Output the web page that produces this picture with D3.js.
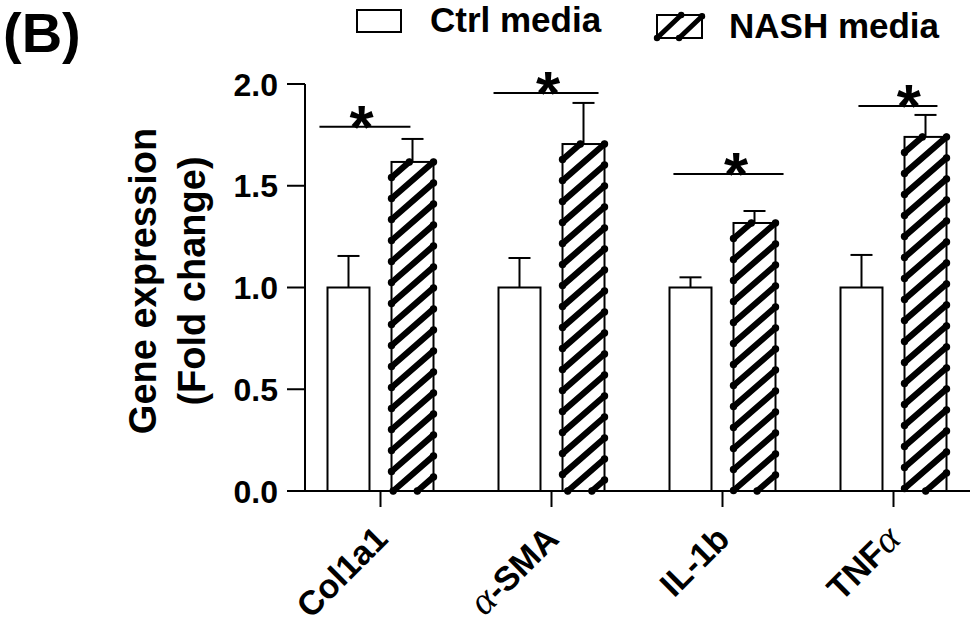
<!DOCTYPE html>
<html>
<head>
<meta charset="utf-8">
<script src="https://cdn.jsdelivr.net/npm/d3@7"></script>
<style>
  html, body { margin: 0; padding: 0; background: #fff; }
  svg { display: block; }
  text { font-family: "Liberation Sans", Arial, Helvetica, sans-serif; font-weight: bold; fill: #000; }
</style>
</head>
<body>
<svg id="chart" width="975" height="630"></svg>
<script>
// ---------- data ----------
const categories = ["Col1a1", "α-SMA", "IL-1b", "TNFα"];
const groups = ["Ctrl media", "NASH media"];
const ctrlMean = [1.0, 1.0, 1.0, 1.0];
const ctrlErr = [0.155, 0.145, 0.05, 0.16];
const nashMean = [1.617, 1.705, 1.317, 1.74];
const nashErr = [0.113, 0.202, 0.059, 0.108];
const sigLevel = [1.79, 1.956, 1.558, 1.892];
const sigLabel = ["*", "*", "*", "*"];
const yTicks = [0, 0.5, 1.0, 1.5, 2.0];
const yTickLabels = ["0.0", "0.5", "1.0", "1.5", "2.0"];

// annotation span of each significance line, in units of the category step
const sigSpan = [[-0.357, 0.175], [-0.339, 0.275], [-0.287, 0.357], [-0.205, 0.257]];
const sigStarPos = [-0.11, -0.02, 0.08, 0.09];

// ---------- layout ----------
const svg = d3.select("#chart");
const axisX0 = 305, axisX1 = 970;
const y = d3.scaleLinear().domain([0, 2]).range([491, 84]);
const x = d3.scaleBand().domain(categories).range([295, 979]).paddingInner(0).paddingOuter(0);
const x1 = d3.scaleBand().domain(groups).range([-53, 53]).paddingInner(0.344).paddingOuter(0);
const step = x.step();
const cx = c => x(c) + x.bandwidth() / 2;

const rows = categories.map((c, i) => ({
  cat: c, i,
  bars: [
    { g: groups[0], v: ctrlMean[i], e: ctrlErr[i] },
    { g: groups[1], v: nashMean[i], e: nashErr[i] }
  ]
}));

// hatch helper: diagonal lines with dotted ends inside a rect
function hatch(sel, x0, y0, x1r, y1, opts) {
  const s = opts.s, sp = opts.sp, w = x1r - x0;
  const base = opts.phase === "bl" ? y1 : y0 + s * w;
  const g = sel.append("g");
  const segs = [];
  for (let k = -8; k < 60; k++) {
    const yL = base + k * sp;
    const xa = Math.max(x0, x0 + (yL - y1) / s);
    const xb = Math.min(x1r, x0 + (yL - y0) / s);
    if (xb - xa > opts.minLen) {
      segs.push([xa, yL - s * (xa - x0), xb, yL - s * (xb - x0)]);
    }
  }
  g.selectAll("line").data(segs).join("line")
    .attr("x1", d => d[0]).attr("y1", d => d[1])
    .attr("x2", d => d[2]).attr("y2", d => d[3])
    .attr("stroke", "#000").attr("stroke-width", opts.sw).attr("stroke-linecap", "round");
  const pts = [];
  segs.forEach(d => { pts.push([d[0], d[1]]); pts.push([d[2], d[3]]); });
  g.selectAll("circle").data(pts).join("circle")
    .attr("cx", d => d[0]).attr("cy", d => d[1]).attr("r", opts.r).attr("fill", "#000");
  return g;
}

// ---------- bars ----------
rows.forEach(row => {
  row.bars.forEach((b, j) => {
    const bx0 = cx(row.cat) + x1(b.g);
    const bx1 = bx0 + x1.bandwidth();
    const top = y(b.v), bot = y(0);
    const bg = svg.append("g");
    const mid = (bx0 + bx1) / 2;
    bg.append("line").attr("x1", mid).attr("x2", mid).attr("y1", top).attr("y2", y(b.v + b.e))
      .attr("stroke", "#000").attr("stroke-width", 2);
    bg.append("line").attr("x1", mid - 11).attr("x2", mid + 11)
      .attr("y1", y(b.v + b.e)).attr("y2", y(b.v + b.e))
      .attr("stroke", "#000").attr("stroke-width", 2);
    bg.append("rect").attr("x", bx0).attr("y", top).attr("width", bx1 - bx0).attr("height", bot - top)
      .attr("fill", "#fff").attr("stroke", "#000").attr("stroke-width", 2);
    if (j === 1) hatch(bg, bx0, top, bx1, bot, { s: 0.87, sp: 21, sw: 6.2, r: 3.7, minLen: 0.5 });
  });
});

// ---------- significance ----------
rows.forEach(row => {
  const c = cx(row.cat);
  const ly = y(sigLevel[row.i]);
  svg.append("line")
    .attr("x1", c + sigSpan[row.i][0] * step).attr("x2", c + sigSpan[row.i][1] * step)
    .attr("y1", ly).attr("y2", ly).attr("stroke", "#000").attr("stroke-width", 2);
  svg.append("text").attr("x", c + sigStarPos[row.i] * step).attr("y", ly + 21)
    .attr("text-anchor", "middle").attr("font-size", 62)
    .text(sigLabel[row.i]);
});

// ---------- axes ----------
const ax = svg.append("g");
ax.append("line").attr("x1", axisX0).attr("x2", axisX0).attr("y1", y(2)).attr("y2", y(0))
  .attr("stroke", "#000").attr("stroke-width", 2);
ax.append("line").attr("x1", axisX0 - 1).attr("x2", axisX1).attr("y1", y(0)).attr("y2", y(0))
  .attr("stroke", "#000").attr("stroke-width", 2);
yTicks.forEach((t, i) => {
  ax.append("line").attr("x1", axisX0 - 18).attr("x2", axisX0).attr("y1", y(t)).attr("y2", y(t))
    .attr("stroke", "#000").attr("stroke-width", 2);
  ax.append("text").attr("x", axisX0 - 27).attr("y", y(t) + 11.5)
    .attr("text-anchor", "end").attr("font-size", 32).text(yTickLabels[i]);
});
categories.forEach(c => {
  ax.append("line").attr("x1", cx(c)).attr("x2", cx(c)).attr("y1", y(0)).attr("y2", y(0) + 16)
    .attr("stroke", "#000").attr("stroke-width", 2);
  const t = ax.append("text")
    .attr("transform", `translate(${cx(c) + 9},${y(0) + 50}) rotate(-45)`)
    .attr("text-anchor", "end").attr("font-size", 34);
  const parts = c.split(/(α)/).filter(p => p.length);
  parts.forEach(p => {
    const ts = t.append("tspan").text(p);
    if (p === "α") ts.style("font-family", "'Liberation Serif', 'DejaVu Serif', serif")
      .style("font-style", "italic").style("font-weight", "normal").attr("font-size", 39);
  });
});

// y axis title
const yt = svg.append("text").attr("transform", "translate(156,281) rotate(-90)")
  .attr("text-anchor", "middle").attr("font-size", 38);
yt.append("tspan").attr("x", 0).attr("dy", 0).text("Gene expression");
yt.append("tspan").attr("x", 0).attr("dy", 49).text("(Fold change)");

// panel label
svg.append("text").attr("x", 3).attr("y", 52).attr("font-size", 56).text("(B)");

// ---------- legend ----------
const lg = svg.append("g");
lg.append("rect").attr("x", 357).attr("y", 10).attr("width", 44).attr("height", 22)
  .attr("fill", "#fff").attr("stroke", "#000").attr("stroke-width", 2);
lg.append("text").attr("x", 430).attr("y", 32).attr("font-size", 35).text(groups[0]);
lg.append("rect").attr("x", 657).attr("y", 15).attr("width", 45).attr("height", 23)
  .attr("fill", "#fff").attr("stroke", "#000").attr("stroke-width", 2);
hatch(lg, 657, 15, 702, 38, { s: 0.95, sp: 21, sw: 5, r: 3.2, minLen: 3, phase: "bl" });
lg.append("text").attr("x", 729).attr("y", 38).attr("font-size", 35).text(groups[1]);
</script>
</body>
</html>
